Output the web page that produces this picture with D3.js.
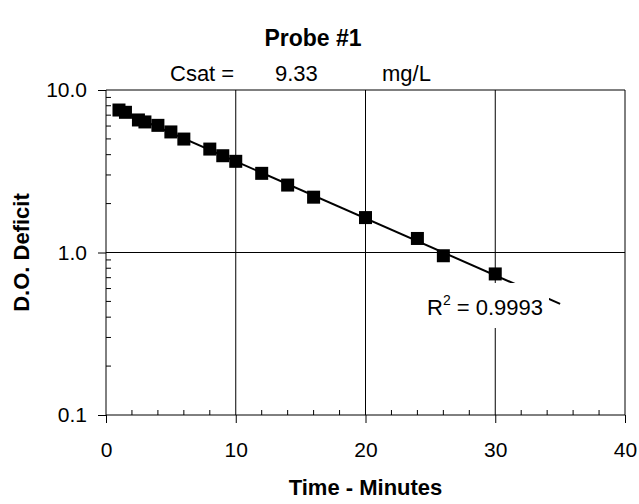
<!DOCTYPE html>
<html>
<head>
<meta charset="utf-8">
<script src="https://cdn.jsdelivr.net/npm/d3@7"></script>
<style>
  body { margin: 0; background: #fff; }
  text { font-family: Arial, "Liberation Sans", sans-serif; fill: #000; }
</style>
</head>
<body>
<script>
'use strict';

const times = [1, 1.5, 2.5, 3, 4, 5, 6, 8, 9, 10, 12, 14, 16, 20, 24, 26, 30];
const deficits = [7.53, 7.29, 6.54, 6.36, 6.06, 5.52, 4.99, 4.33, 3.94, 3.64, 3.07, 2.60, 2.19, 1.64, 1.22, 0.955, 0.738];
const xTicks = [0, 10, 20, 30, 40];
const yTicks = [0.1, 1, 10];
const trendRange = [1, 35];
const csat = '9.33';
const rSquared = '0.9993';

const width = 639, height = 504;
const margin = {left: 106, right: 14, top: 90, bottom: 89};
const font = 'Arial, "Liberation Sans", sans-serif';

const svg = d3.select('body').append('svg')
    .attr('width', width)
    .attr('height', height);

const x = d3.scaleLinear().domain([0, 40]).range([margin.left, width - margin.right]);
const y = d3.scaleLog().domain([0.1, 10]).range([height - margin.bottom, margin.top]);

// grid lines
svg.append('g').selectAll('line')
    .data(xTicks.slice(1))
    .join('line')
    .attr('x1', d => x(d)).attr('x2', d => x(d))
    .attr('y1', y(10)).attr('y2', y(0.1))
    .attr('stroke', '#000').attr('stroke-width', 1);
svg.append('g').selectAll('line')
    .data(yTicks.slice(1))
    .join('line')
    .attr('x1', x(0)).attr('x2', x(40))
    .attr('y1', d => y(d)).attr('y2', d => y(d))
    .attr('stroke', '#000').attr('stroke-width', 1);

// minor ticks
const xMinor = d3.range(2, 40, 2).filter(d => d % 10 !== 0);
svg.append('g').selectAll('line')
    .data(xMinor)
    .join('line')
    .attr('x1', d => x(d)).attr('x2', d => x(d))
    .attr('y1', y(0.1)).attr('y2', y(0.1) - 5)
    .attr('stroke', '#000');
const yMinor = [];
[0.1, 1].forEach(b => d3.range(2, 10).forEach(m => yMinor.push(b * m)));
svg.append('g').selectAll('line')
    .data(yMinor)
    .join('line')
    .attr('x1', x(0)).attr('x2', x(0) + 5)
    .attr('y1', d => y(d)).attr('y2', d => y(d))
    .attr('stroke', '#000');

// axes
const xAxis = d3.axisBottom(x).tickValues(xTicks).tickSize(8).tickPadding(19).tickFormat(d3.format('d'));
svg.append('g')
    .attr('transform', `translate(0,${y(0.1)})`)
    .call(xAxis)
    .call(g => g.select('.domain').attr('d', `M${x(0)},0H${x(40)}`))
    .call(g => g.selectAll('text').attr('font-size', 21).attr('font-family', font));

const yAxis = d3.axisLeft(y).tickValues(yTicks).tickSize(8).tickPadding(11).tickFormat(d3.format('.1f'));
svg.append('g')
    .attr('transform', `translate(${x(0)},0)`)
    .call(yAxis)
    .call(g => g.select('.domain').attr('d', `M0,${y(10)}V${y(0.1)}`))
    .call(g => g.selectAll('text').attr('font-size', 21).attr('font-family', font));

// trend line (exponential fit)
const logs = deficits.map(Math.log10);
const mt = d3.mean(times), ml = d3.mean(logs);
const slope = d3.sum(times, (t, i) => (t - mt) * (logs[i] - ml)) / d3.sum(times, t => (t - mt) ** 2);
const icpt = ml - slope * mt;
const fit = t => Math.pow(10, icpt + slope * t);

svg.append('line')
    .attr('x1', x(trendRange[0])).attr('y1', y(fit(trendRange[0])))
    .attr('x2', x(trendRange[1])).attr('y2', y(fit(trendRange[1])))
    .attr('stroke', '#000').attr('stroke-width', 2);

// markers
svg.append('g').selectAll('rect')
    .data(times.map((t, i) => ({t, v: deficits[i]})))
    .join('rect')
    .attr('x', d => x(d.t) - 6.5)
    .attr('y', d => y(d.v) - 6.5)
    .attr('width', 13).attr('height', 13)
    .attr('fill', '#000');

// R² label with white box
const lbl = svg.append('g');
lbl.append('rect')
    .attr('x', 424).attr('y', 283)
    .attr('width', 125).attr('height', 45)
    .attr('fill', '#fff');
const rt = lbl.append('text')
    .attr('x', 427).attr('y', 315)
    .attr('font-size', 22);
rt.append('tspan').text('R');
rt.append('tspan').attr('dy', -10).attr('font-size', 14).text('2');
rt.append('tspan').attr('dy', 10).text(' = ' + rSquared);

// Csat text
svg.append('text').attr('x', 170).attr('y', 81).attr('font-size', 22).text('Csat =');
svg.append('text').attr('x', 275).attr('y', 81).attr('font-size', 22).text(csat);
svg.append('text').attr('x', 382).attr('y', 81).attr('font-size', 22).text('mg/L');

// titles
svg.append('text')
    .attr('x', 313).attr('y', 46)
    .attr('text-anchor', 'middle')
    .attr('font-size', 23).attr('font-weight', 'bold')
    .text('Probe #1');
svg.append('text')
    .attr('x', (x(0) + x(40)) / 2).attr('y', 495)
    .attr('text-anchor', 'middle')
    .attr('font-size', 22).attr('font-weight', 'bold')
    .text('Time - Minutes');
svg.append('text')
    .attr('transform', `translate(29,${(y(10) + y(0.1)) / 2}) rotate(-90)`)
    .attr('text-anchor', 'middle')
    .attr('font-size', 22).attr('font-weight', 'bold')
    .text('D.O. Deficit');
</script>
</body>
</html>
